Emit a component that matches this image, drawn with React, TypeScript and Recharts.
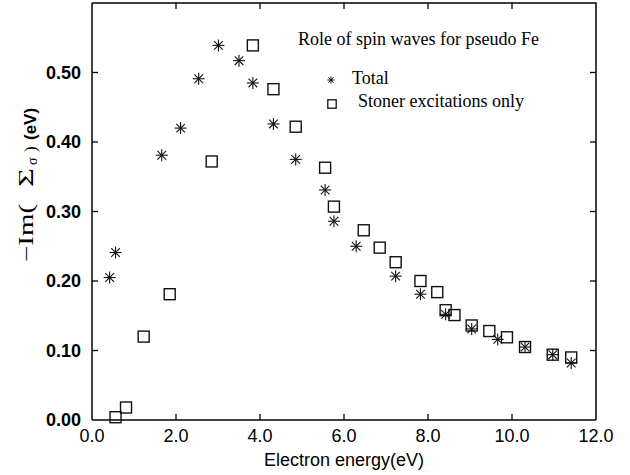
import { ScatterChart, Scatter, XAxis, YAxis, Legend, Label } from 'recharts'

// Total (spin waves + Stoner), asterisks
const totalEnergy = [0.42, 0.56, 1.66, 2.11, 2.54, 3.01, 3.5, 3.83, 4.32, 4.85, 5.55, 5.76, 6.29, 7.23, 7.82, 8.42, 9.04, 9.66, 10.31, 10.97, 11.41]
const totalIm = [0.205, 0.241, 0.381, 0.42, 0.491, 0.539, 0.517, 0.485, 0.426, 0.375, 0.331, 0.286, 0.25, 0.207, 0.181, 0.152, 0.131, 0.116, 0.105, 0.094, 0.082]

// Stoner excitations only, squares
const stonerEnergy = [0.56, 0.81, 1.23, 1.85, 2.85, 3.83, 4.32, 4.85, 5.55, 5.76, 6.47, 6.85, 7.23, 7.82, 8.22, 8.42, 8.63, 9.04, 9.46, 9.88, 10.31, 10.97, 11.41]
const stonerIm = [0.004, 0.018, 0.12, 0.181, 0.372, 0.539, 0.476, 0.422, 0.363, 0.307, 0.273, 0.248, 0.227, 0.2, 0.184, 0.158, 0.151, 0.136, 0.128, 0.119, 0.105, 0.094, 0.09]

const xTicks = [0, 2, 4, 6, 8, 10, 12]
const yTicks = [0, 0.1, 0.2, 0.3, 0.4, 0.5]
const xMax = 12
const yMax = 0.6

const legendTitle = 'Role of spin waves for pseudo Fe'
const seriesNames = ['Total', 'Stoner excitations only']

const totalData = totalEnergy.map((x, i) => ({ x, y: totalIm[i] }))
const stonerData = stonerEnergy.map((x, i) => ({ x, y: stonerIm[i] }))

// frame (top + right edges) and inward tick marks, placed in data space so the chart scales position them
const frameData = [
  { x: 0, y: yMax },
  { x: xMax, y: yMax },
  { x: xMax, y: 0 },
]
const innerX = xTicks.slice(1, -1)
const innerY = yTicks.slice(1)
const bottomTickData = innerX.map((x) => ({ x, y: 0 }))
const topTickData = innerX.map((x) => ({ x, y: yMax }))
const leftTickData = innerY.map((y) => ({ x: 0, y }))
const rightTickData = innerY.map((y) => ({ x: xMax, y }))

const SANS = '"Liberation Sans", Arial, sans-serif'
const SERIF = '"Liberation Serif", "Times New Roman", serif'
const INK = '#111'
const TICK = 6

function asterisk(cx: number, cy: number, r: number, w: number) {
  const d = r * 0.72
  return (
    <g stroke={INK} strokeWidth={w}>
      <line x1={cx - r} y1={cy} x2={cx + r} y2={cy} />
      <line x1={cx} y1={cy - r} x2={cx} y2={cy + r} />
      <line x1={cx - d} y1={cy - d} x2={cx + d} y2={cy + d} />
      <line x1={cx - d} y1={cy + d} x2={cx + d} y2={cy - d} />
    </g>
  )
}

const AsteriskShape = (props: any) => asterisk(props.cx, props.cy, 6, 1.1)

const SquareShape = (props: any) => (
  <rect x={props.cx - 5.5} y={props.cy - 5.5} width={11} height={11} fill="none" stroke={INK} strokeWidth={1.4} />
)

const NoShape = () => <g />

// tick mark shapes: dx/dy is the inward direction
const tickShape = (dx: number, dy: number) => (props: any) => (
  <line x1={props.cx} y1={props.cy} x2={props.cx + dx * TICK} y2={props.cy + dy * TICK} stroke="#000" strokeWidth={1.3} />
)
const UpTick = tickShape(0, -1)
const DownTick = tickShape(0, 1)
const RightwardTick = tickShape(1, 0)
const LeftwardTick = tickShape(-1, 0)

function XTick({ x, y, payload }: any) {
  return (
    <text x={x} y={y + 22} textAnchor="middle" fontFamily={SANS} fontSize={18} fill="#000">
      {payload.value.toFixed(1)}
    </text>
  )
}

function YTick({ x, y, payload }: any) {
  return (
    <text x={x - 11} y={y} dy="0.36em" textAnchor="end" fontFamily={SANS} fontWeight="bold" fontSize={18} fill="#000">
      {payload.value.toFixed(2)}
    </text>
  )
}

function XTitle({ viewBox }: any) {
  return (
    <text x={viewBox.x + viewBox.width / 2} y={viewBox.y + 46} textAnchor="middle" fontFamily={SANS} fontSize={18} fill="#000">
      Electron energy(eV)
    </text>
  )
}

function rot(x: number, y: number) {
  return `rotate(-90 ${x} ${y})`
}

function YTitle() {
  return (
    <g fill="#000">
      <text x={33} y={262} transform={rot(33, 262)} fontFamily={SERIF} fontSize={20} textLength={58} lengthAdjust="spacingAndGlyphs">
        −Im(
      </text>
      <text x={33} y={187} transform={rot(33, 187)} fontFamily={SERIF} fontSize={20} textLength={19} lengthAdjust="spacingAndGlyphs">
        Σ
      </text>
      <text x={37} y={165} transform={rot(37, 165)} fontFamily={SERIF} fontSize={14}>
        σ
      </text>
      <text x={36} y={152} transform={rot(36, 152)} fontFamily={SERIF} fontSize={17}>
        )
      </text>
      <text x={36} y={140} transform={rot(36, 140)} fontFamily={SANS} fontWeight="bold" fontSize={17}>
        (eV)
      </text>
    </g>
  )
}

function LegendBox() {
  return (
    <svg width={630} height={120} style={{ display: 'block' }}>
      <g fontFamily={SERIF} fontSize={18} fill="#000">
        <text x={298} y={45}>{legendTitle}</text>
        {asterisk(331, 80, 3.6, 1)}
        <text x={352} y={84}>{seriesNames[0]}</text>
        <rect x={327.8} y={99.8} width={8.4} height={8.4} fill="none" stroke={INK} strokeWidth={1.3} />
        <text x={358} y={107}>{seriesNames[1]}</text>
      </g>
    </svg>
  )
}

export default function App() {
  return (
    <div style={{ position: 'absolute', left: 0, top: 0, background: '#fff' }}>
      <ScatterChart width={630} height={475} margin={{ top: 3, right: 34, bottom: 0, left: 0 }}>
        <XAxis
          type="number"
          dataKey="x"
          domain={[0, xMax]}
          ticks={xTicks}
          interval={0}
          height={55}
          tickSize={0}
          tickMargin={0}
          tickLine={false}
          tick={<XTick />}
          axisLine={{ stroke: '#000', strokeWidth: 1.5 }}
          label={<Label content={<XTitle />} />}
        />
        <YAxis
          type="number"
          dataKey="y"
          domain={[0, yMax]}
          ticks={yTicks}
          interval={0}
          width={92}
          tickSize={0}
          tickMargin={0}
          tickLine={false}
          tick={<YTick />}
          axisLine={{ stroke: '#000', strokeWidth: 1.5 }}
          label={<Label content={<YTitle />} />}
        />
        <Legend
          layout="horizontal"
          verticalAlign="middle"
          align="center"
          content={<LegendBox />}
          wrapperStyle={{ left: 0, top: 0, width: 630 }}
        />
        <Scatter data={frameData} shape={NoShape} line={{ stroke: '#000', strokeWidth: 1.5 }} lineType="joint" legendType="none" isAnimationActive={false} />
        <Scatter data={bottomTickData} shape={UpTick} legendType="none" isAnimationActive={false} />
        <Scatter data={topTickData} shape={DownTick} legendType="none" isAnimationActive={false} />
        <Scatter data={leftTickData} shape={RightwardTick} legendType="none" isAnimationActive={false} />
        <Scatter data={rightTickData} shape={LeftwardTick} legendType="none" isAnimationActive={false} />
        <Scatter name={seriesNames[1]} data={stonerData} shape={SquareShape} isAnimationActive={false} />
        <Scatter name={seriesNames[0]} data={totalData} shape={AsteriskShape} isAnimationActive={false} />
      </ScatterChart>
    </div>
  )
}
